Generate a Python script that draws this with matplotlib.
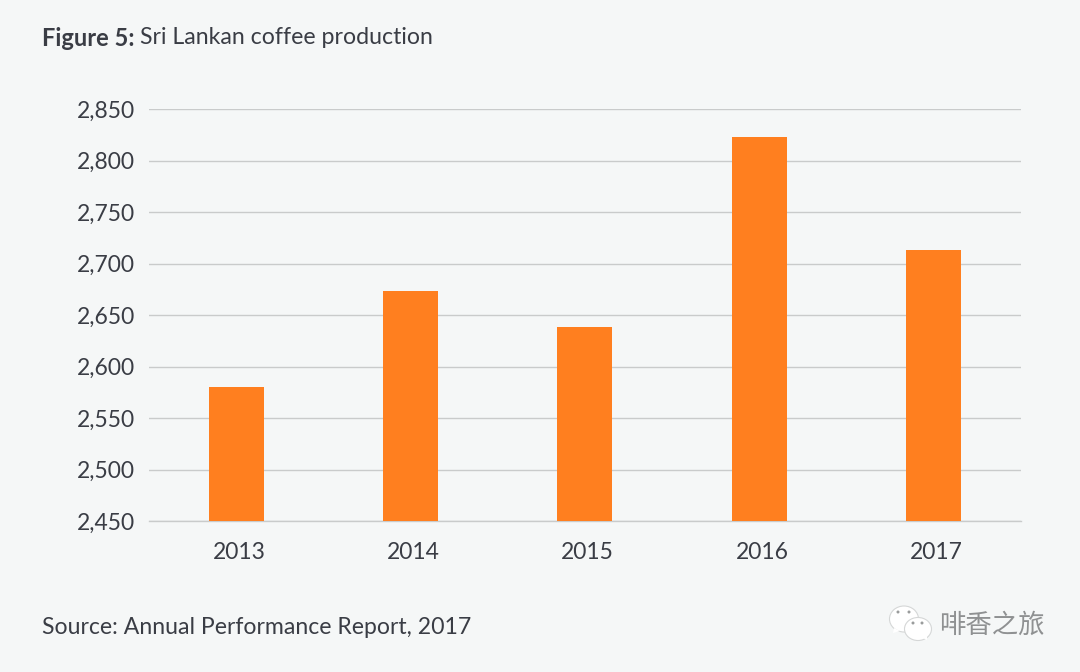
import matplotlib
matplotlib.use("Agg")
import matplotlib.pyplot as plt
from matplotlib.patches import Ellipse, Polygon
from matplotlib.ticker import FuncFormatter
from matplotlib.transforms import ScaledTranslation

years = ["2013", "2014", "2015", "2016", "2017"]
production = [2580, 2673, 2638, 2823, 2713]
y_ticks = [2450, 2500, 2550, 2600, 2650, 2700, 2750, 2800, 2850]

bg = "#f5f7f7"
orange = "#ff7f1f"
text_col = "#3a3d45"
W, H = 1080, 672

plt.rcParams["font.family"] = ["Lato", "DejaVu Sans"]

fig = plt.figure(figsize=(10.8, 6.72), dpi=100, facecolor=bg)
ax = fig.add_axes([149 / W, 1 - 521 / H, 871.5 / W, 412 / H], facecolor=bg)

ax.bar(years, production, width=0.315, color=orange, zorder=3)
ax.set_xlim(-0.5, 4.5)
ax.set_ylim(2450, 2850)
ax.set_yticks(y_ticks)
ax.yaxis.set_major_formatter(FuncFormatter(lambda v, p: f"{int(v):,}"))
ax.grid(axis="y", color="#c9cbcb", linewidth=1.0, zorder=1)
ax.set_axisbelow(True)
for s in ax.spines.values():
    s.set_visible(False)
ax.tick_params(axis="both", length=0, labelsize=16.5, labelcolor=text_col)
ax.tick_params(axis="y", pad=10)
ax.tick_params(axis="x", pad=15)
ax.spines["bottom"].set_visible(True)
ax.spines["bottom"].set_color("#c9cbcb")
ax.spines["bottom"].set_linewidth(1.0)

# year labels sit a few pixels right of the bar centres in the original
shift = ScaledTranslation(3 / 100, 0, fig.dpi_scale_trans)
for lab in ax.get_xticklabels():
    lab.set_transform(lab.get_transform() + shift)

# title, bold part and normal part
t = fig.text(42 / W, 1 - 38 / H, "Figure 5:", fontsize=17, fontweight="bold",
             color=text_col, va="center")
fig.canvas.draw()
bb = t.get_window_extent()
fig.text((bb.x1 + 6) / W, 1 - 38 / H, "Sri Lankan coffee production", fontsize=16.7,
         color=text_col, va="center")

fig.text(42 / W, 1 - 627 / H, "Source: Annual Performance Report, 2017", fontsize=16.6,
         color=text_col, va="center")

# watermark
fig.text(939 / W, 1 - 625 / H, "啡香之旅", fontsize=19, color="#8f9192", va="center",
         family=["Noto Sans CJK SC", "DejaVu Sans"])
icon = fig.add_axes([0, 0, 1, 1], facecolor="none")
icon.set_xlim(0, W)
icon.set_ylim(H, 0)
icon.axis("off")
for cx, cy, w, h in [(904, 619, 29, 26), (918, 629, 27, 23)]:
    icon.add_patch(Ellipse((cx, cy), w, h, fc="white", ec="#d5d7d7", lw=0.8))
icon.add_patch(Polygon([(894, 628), (893, 633), (900, 631)], fc="white", ec="none"))
icon.add_patch(Polygon([(923, 638), (927, 640), (927, 635)], fc="white", ec="none"))
for cx, cy in [(898, 612), (909, 612), (913, 623), (922, 623)]:
    icon.add_patch(Ellipse((cx, cy), 3, 3, fc="#9a9c9c", ec="none"))

fig.savefig("out.png", dpi=100, facecolor=bg)
